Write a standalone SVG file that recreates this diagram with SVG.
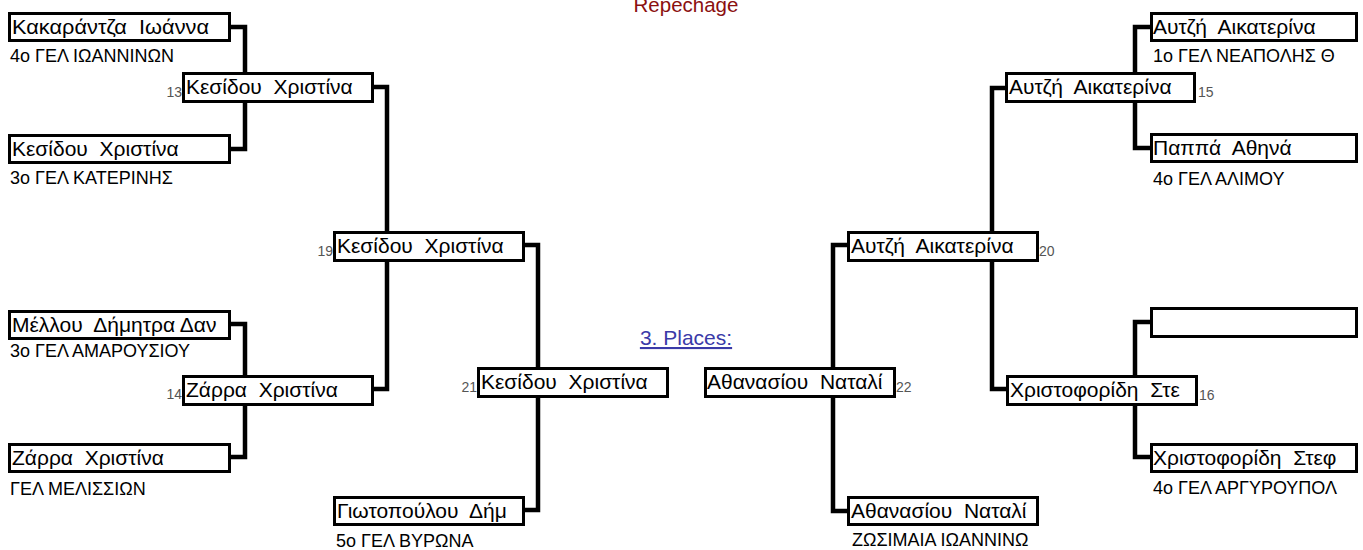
<svg xmlns="http://www.w3.org/2000/svg" width="1363" height="550" viewBox="0 0 1363 550">
<style>
.box{fill:#fff;stroke:#000;stroke-width:3}
.nm{font-family:"Liberation Sans",Arial,sans-serif;font-size:21px;fill:#000;white-space:pre}
.sc{font-family:"Liberation Sans",Arial,sans-serif;font-size:18px;fill:#000}
.no{font-family:"Liberation Sans",Arial,sans-serif;font-size:14px;fill:#555}
.ln{fill:none;stroke:#000;stroke-width:4.5}
</style>
<rect width="1363" height="550" fill="#fff"/>
<text x="686" y="12" text-anchor="middle" font-family="Liberation Sans, Arial, sans-serif" font-size="20.5" fill="#8b1010">Repechage</text>
<g id="connectors">
<path class="ln" d="M231,27 H245 V149 H231"/>
<path class="ln" d="M374,87 H387 V389 H374"/>
<path class="ln" d="M231,324 H245 V457 H231"/>
<path class="ln" d="M525,245 H538 V510 H525"/>
<path class="ln" d="M1150,27 H1135 V148 H1150"/>
<path class="ln" d="M1005,88 H992 V389 H1006"/>
<path class="ln" d="M1150,322 H1135 V457 H1150"/>
<path class="ln" d="M847,245 H833 V511 H847"/>
</g>
<g id="n-a1"><rect class="box" x="9.5" y="13.5" width="220" height="27"/><text class="nm" x="12" y="34" xml:space="preserve" textLength="197" lengthAdjust="spacingAndGlyphs">Κακαράντζα  Ιωάννα</text><text class="sc" x="10" y="62">4ο ΓΕΛ ΙΩΑΝΝΙΝΩΝ</text></g>
<g id="n-a2"><rect class="box" x="9.5" y="135.5" width="220" height="27"/><text class="nm" x="12" y="156" xml:space="preserve">Κεσίδου  Χριστίνα</text><text class="sc" x="10" y="184">3ο ΓΕΛ ΚΑΤΕΡΙΝΗΣ</text></g>
<g id="n-a3"><rect class="box" x="9.5" y="311.5" width="220" height="27"/><text class="nm" x="12" y="332" xml:space="preserve">Μέλλου  Δήμητρα Δαν</text><text class="sc" x="10" y="357">3ο ΓΕΛ ΑΜΑΡΟΥΣΙΟΥ</text></g>
<g id="n-a4"><rect class="box" x="9.5" y="444.5" width="220" height="27"/><text class="nm" x="12" y="465" xml:space="preserve">Ζάρρα  Χριστίνα</text><text class="sc" x="10" y="495">ΓΕΛ ΜΕΛΙΣΣΙΩΝ</text></g>
<g id="n-13"><rect class="box" x="183.5" y="73.5" width="189" height="28"/><text class="nm" x="186" y="94" xml:space="preserve">Κεσίδου  Χριστίνα</text><text class="no" x="182" y="97" text-anchor="end">13</text></g>
<g id="n-14"><rect class="box" x="183.5" y="376.5" width="189" height="28"/><text class="nm" x="186" y="397" xml:space="preserve">Ζάρρα  Χριστίνα</text><text class="no" x="182" y="399" text-anchor="end">14</text></g>
<g id="n-19"><rect class="box" x="334.5" y="232.5" width="189" height="28"/><text class="nm" x="337" y="253" xml:space="preserve">Κεσίδου  Χριστίνα</text><text class="no" x="333" y="256" text-anchor="end">19</text></g>
<g id="n-21"><rect class="box" x="478.5" y="368.5" width="189" height="28"/><text class="nm" x="481" y="389" xml:space="preserve">Κεσίδου  Χριστίνα</text><text class="no" x="477" y="392" text-anchor="end">21</text></g>
<g id="n-g"><rect class="box" x="334.5" y="497.5" width="189" height="27"/><text class="nm" x="337" y="518" xml:space="preserve">Γιωτοπούλου  Δήμ</text><text class="sc" x="336" y="547">5ο ΓΕΛ ΒΥΡΩΝΑ</text></g>
<g id="n-places"><text x="686" y="345" text-anchor="middle" font-family="Liberation Sans, Arial, sans-serif" font-size="21" fill="#3a3aa8" text-decoration="underline">3. Places:</text></g>
<g id="n-22"><rect class="box" x="705.5" y="368.5" width="189" height="28"/><text class="nm" x="707" y="389" xml:space="preserve">Αθανασίου  Ναταλί</text><text class="no" x="896" y="392">22</text></g>
<g id="n-b1"><rect class="box" x="1151.5" y="13.5" width="205" height="27"/><text class="nm" x="1153" y="34" xml:space="preserve">Αυτζή  Αικατερίνα</text><text class="sc" x="1153" y="62">1ο ΓΕΛ ΝΕΑΠΟΛΗΣ Θ</text></g>
<g id="n-b2"><rect class="box" x="1151.5" y="134.5" width="205" height="27"/><text class="nm" x="1153" y="155" xml:space="preserve">Παππά  Αθηνά</text><text class="sc" x="1153" y="185">4ο ΓΕΛ ΑΛΙΜΟΥ</text></g>
<g id="n-b3"><rect class="box" x="1151.5" y="308.5" width="205" height="28"/></g>
<g id="n-b4"><rect class="box" x="1151.5" y="444.5" width="205" height="27"/><text class="nm" x="1153" y="465" xml:space="preserve">Χριστοφορίδη  Στεφ</text><text class="sc" x="1153" y="494">4ο ΓΕΛ ΑΡΓΥΡΟΥΠΟΛ</text></g>
<g id="n-15"><rect class="box" x="1006.5" y="73.5" width="188" height="28"/><text class="nm" x="1009" y="94" xml:space="preserve">Αυτζή  Αικατερίνα</text><text class="no" x="1198" y="97">15</text></g>
<g id="n-16"><rect class="box" x="1007.5" y="376.5" width="189" height="28"/><text class="nm" x="1010" y="397" xml:space="preserve">Χριστοφορίδη  Στε</text><text class="no" x="1199" y="400">16</text></g>
<g id="n-20"><rect class="box" x="848.5" y="232.5" width="189" height="28"/><text class="nm" x="851" y="253" xml:space="preserve">Αυτζή  Αικατερίνα</text><text class="no" x="1039" y="256">20</text></g>
<g id="n-ab"><rect class="box" x="848.5" y="497.5" width="189" height="27"/><text class="nm" x="851" y="518" xml:space="preserve">Αθανασίου  Ναταλί</text><text class="sc" x="852" y="546">ΖΩΣΙΜΑΙΑ ΙΩΑΝΝΙΝΩ</text></g>
</svg>
